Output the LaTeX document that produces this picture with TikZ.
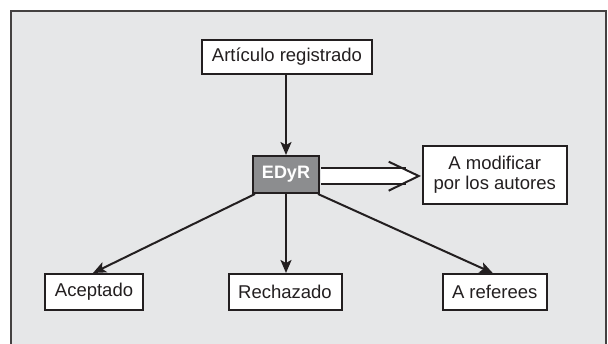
\documentclass[tikz,border=0pt]{standalone}
\usepackage{fontspec}
\setmainfont{Liberation Sans}
\usetikzlibrary{arrows.meta,calc}
\definecolor{bgray}{HTML}{E6E7E8}
\definecolor{dgray}{HTML}{8C8D8F}
\definecolor{ink}{HTML}{231F20}
\tikzset{
  box/.style={draw=ink, line width=2pt, fill=white, inner sep=0pt, align=center,
    font=\fontsize{18.5}{20}\selectfont, text=ink},
  darkbox/.style={box, fill=dgray, text=white, font=\fontsize{18}{20}\selectfont\bfseries},
  arr/.style={draw=ink, line width=2pt, -{Stealth[length=13pt,width=11pt,inset=3pt]}},
  hollow/.style={draw=ink, line width=2pt, line join=miter}
}
\begin{document}
\begin{tikzpicture}[x=1pt,y=-1pt]
\useasboundingbox (0,0) rectangle (608,344);
\begin{scope}
\clip (0,0) rectangle (608,344);
\draw[fill=bgray, draw=ink!85, line width=1.5pt] (11,11) rectangle (606,360);
\end{scope}
\node[box, minimum width=170pt, minimum height=34pt] (art) at (287,57) {Artículo registrado};
\node[darkbox, minimum width=66pt, minimum height=37pt] (edyr) at (286,174.5) {EDyR};
\node[box, minimum width=144pt, minimum height=58pt] (mod) at (494.7,175) {A modificar\\por los autores};
\node[box, minimum width=98pt, minimum height=36pt] (acep) at (94,292) {Aceptado};
\node[box, minimum width=113pt, minimum height=36pt] (rech) at (285,292) {Rechazado};
\node[box, minimum width=104pt, minimum height=36pt] (refe) at (494.7,292) {A referees};
% arrows
\draw[arr] (art.south -| edyr.north) -- (edyr.north);
\draw[arr] (edyr.south) -- (edyr.south |- rech.north);
\draw[arr] ($(edyr.south west)+(3,0)$) -- ($(acep.north)+(-1,0)$);
\draw[arr] ($(edyr.south east)+(-2,0)$) -- ($(refe.north)+(-2,0)$);
% hollow double arrow
\coordinate (s1) at ($(edyr.east)+(1,-6.5)$);
\coordinate (s2) at ($(edyr.east)+(1,9.5)$);
\coordinate (tip) at ($(mod.west)+(-3,1)$);
\coordinate (h1) at ($(tip)+(-13,-8)$);
\coordinate (h2) at ($(tip)+(-13,8)$);
\fill[white] (s1) -- (h1) -- (tip) -- (h2) -- (s2) -- cycle;
\draw[hollow] (s1) -- (h1);
\draw[hollow] (s2) -- (h2);
\draw[hollow] ($(tip)+(-30,-14.3)$) -- (tip) -- ($(tip)+(-30,14.7)$);
\end{tikzpicture}
\end{document}
